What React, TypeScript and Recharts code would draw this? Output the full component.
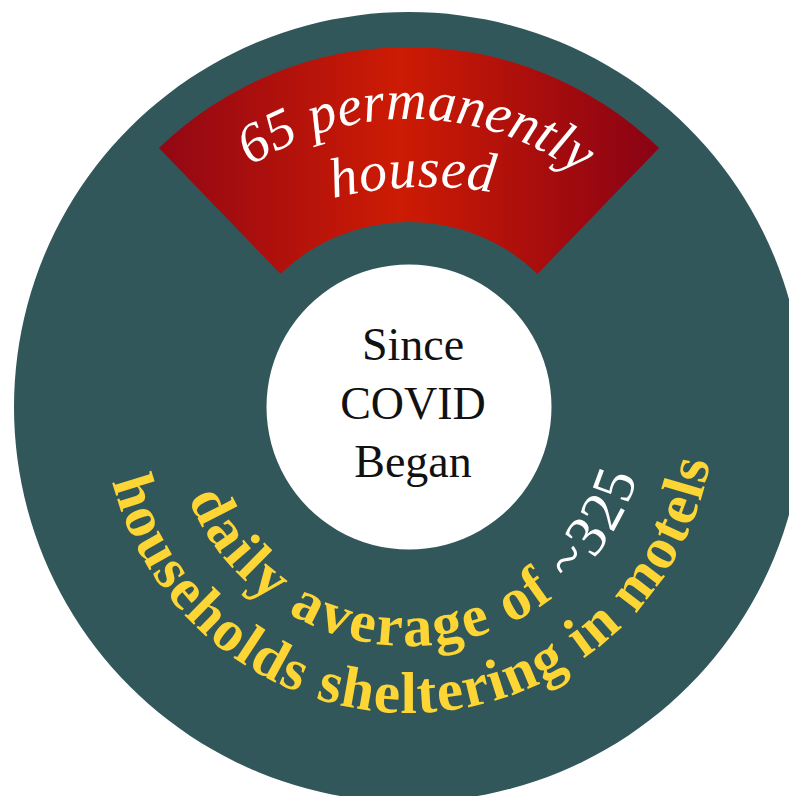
import { PieChart, Pie, Cell } from "recharts";

// counts shown in the graphic
const housed = [{ name: "permanently housed", value: 65 }];
const sheltering = [{ name: "households sheltering in motels", value: 325 }];

const topLine = "65 permanently";
const topLine2 = "housed";
const centerLines = ["Since", "COVID", "Began"];
const innerBottom = "daily average of ";
const innerBottomNum = "~325";
const outerBottom = "households sheltering in motels";

const W = 789;
const H = 796;
const CX = 409;
const CY = 407;

const TEAL = "#31575a";
const YELLOW = "#fdd535";

// svg arc between two angles (degrees, counter-clockwise from 3 o'clock)
const arcPath = (cx: number, cy: number, r: number, from: number, to: number, sweep: number) => {
  const rad = Math.PI / 180;
  const x1 = cx + r * Math.cos(from * rad);
  const y1 = cy - r * Math.sin(from * rad);
  const x2 = cx + r * Math.cos(to * rad);
  const y2 = cy - r * Math.sin(to * rad);
  const large = Math.abs(to - from) > 180 ? 1 : 0;
  return `M ${x1} ${y1} A ${r} ${r} 0 ${large} ${sweep} ${x2} ${y2}`;
};

// all text is drawn as the label of the top slice so it sits above every sector
const renderLabels = (props: any) => {
  const cx = props.cx ?? CX;
  const cy = props.cy ?? CY;
  return (
    <g key="labels">
      <path id="topArc" d={arcPath(cx, cy, 288, 148.5, 28.5, 1)} fill="none" stroke="none" />
      <path id="housedArc" d={arcPath(cx + 18, cy - 220 + 400, 400, 112, 72, 1)} fill="none" stroke="none" />
      <path id="innerArc" d={arcPath(cx, cy, 239, 173, 373, 0)} fill="none" stroke="none" />
      <path id="outerArc" d={arcPath(cx, cy, 306, 172, 372, 0)} fill="none" stroke="none" />
      <text fontFamily="'Liberation Serif', serif" fontStyle="italic" fontSize={56} fill="#fff">
        <textPath href="#topArc" startOffset="50%" textAnchor="middle">
          {topLine}
        </textPath>
      </text>
      <text fontFamily="'Liberation Serif', serif" fontStyle="italic" fontSize={56} fill="#fff" letterSpacing={0.5}>
        <textPath href="#housedArc" startOffset="50%" textAnchor="middle">
          {topLine2}
        </textPath>
      </text>
      {centerLines.map((line, i) => (
        <text
          key={line}
          x={cx + 4}
          y={cy - 47 + i * 58.5}
          textAnchor="middle"
          fontFamily="'Liberation Serif', serif"
          fontSize={46}
          fill="#111"
        >
          {line}
        </text>
      ))}
      <text fontFamily="'Liberation Serif', serif" fontWeight="bold" fontSize={59} fill={YELLOW} letterSpacing={2.5}>
        <textPath href="#innerArc" startOffset="50%" textAnchor="middle">
          {innerBottom}
          <tspan fill="#fff" fontWeight="normal">{innerBottomNum}</tspan>
        </textPath>
      </text>
      <text fontFamily="'Liberation Serif', serif" fontWeight="bold" fontSize={59} fill={YELLOW} letterSpacing={1.5}>
        <textPath href="#outerArc" startOffset="50%" textAnchor="middle">
          {outerBottom}
        </textPath>
      </text>
    </g>
  );
};

export default function App() {
  return (
    <div style={{ position: "fixed", left: 0, top: 0, width: W, height: H, overflow: "hidden", background: "#fff" }}>
      <PieChart width={W} height={H} margin={{ top: 0, right: 0, bottom: 0, left: 0 }}>
        <defs>
          <linearGradient id="redGrad" x1="0" y1="0" x2="1" y2="0">
            <stop offset="0%" stopColor="#920714" />
            <stop offset="48%" stopColor="#cd1b04" />
            <stop offset="100%" stopColor="#890214" />
          </linearGradient>
        </defs>
        <Pie
          data={sheltering}
          dataKey="value"
          cx={CX}
          cy={CY}
          innerRadius={142.5}
          outerRadius={395}
          startAngle={90}
          endAngle={-270}
          stroke="none"
          isAnimationActive={false}
        >
          <Cell fill={TEAL} />
        </Pie>
        <Pie
          data={housed}
          dataKey="value"
          cx={CX}
          cy={CY}
          innerRadius={185}
          outerRadius={360}
          startAngle={134}
          endAngle={46}
          stroke="none"
          label={renderLabels}
          labelLine={false}
          isAnimationActive={false}
        >
          <Cell fill="url(#redGrad)" />
        </Pie>
      </PieChart>
    </div>
  );
}
